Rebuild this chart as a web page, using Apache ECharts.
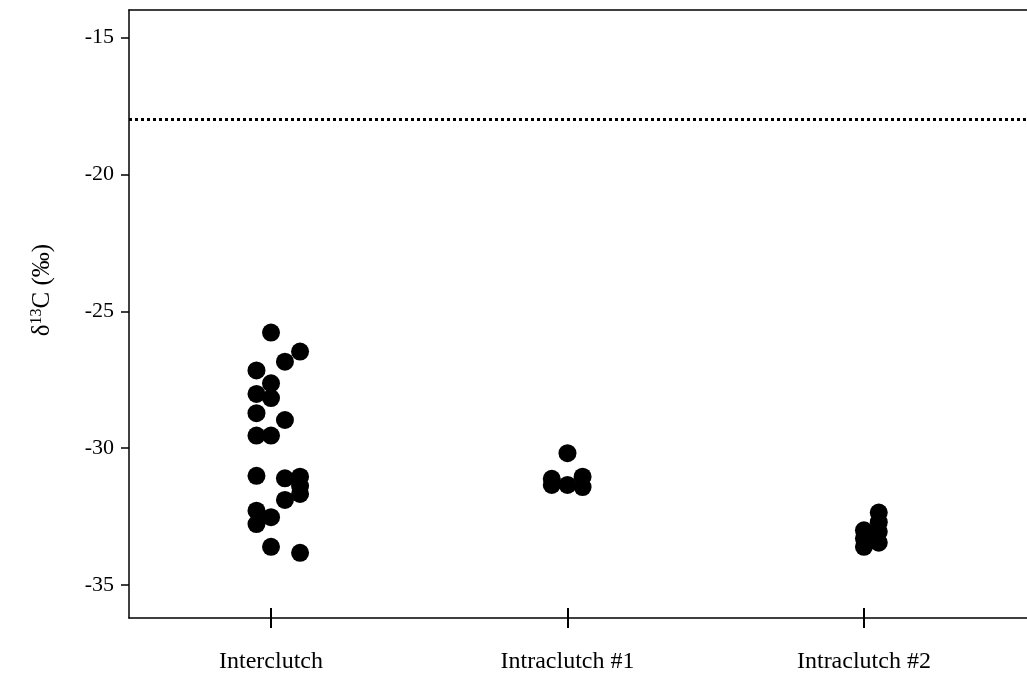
<!DOCTYPE html>
<html>
<head>
<meta charset="utf-8">
<script src="https://cdn.jsdelivr.net/npm/echarts@6/dist/echarts.min.js"></script>
<style>html,body{margin:0;padding:0;background:#fff}#c{width:1027px;height:678px}</style>
</head>
<body>
<div id="c"></div>
<script>
const categories = ['Interclutch', 'Intraclutch #1', 'Intraclutch #2'];
const categoryPositions = [1, 2, 3];
const yTicks = [-35, -30, -25, -20, -15];
const referenceLine = -18;
// [x position (category index + jitter), δ13C]
const interclutch = [
  [1.0, -25.78], [1.098, -26.47], [1.047, -26.84], [0.951, -27.16], [1.0, -27.63],
  [0.951, -28.02], [1.0, -28.17], [0.951, -28.72], [1.047, -28.97], [0.951, -29.54],
  [1.0, -29.54], [0.951, -31.01], [1.047, -31.10], [1.098, -31.04], [1.098, -31.38],
  [1.098, -31.67], [1.047, -31.89], [0.951, -32.28], [0.951, -32.77], [1.0, -32.52],
  [1.0, -33.60], [1.098, -33.82]
];
const intraclutch1 = [
  [2.0, -30.18], [1.947, -31.12], [1.947, -31.34], [2.0, -31.34], [2.051, -31.04], [2.051, -31.42]
];
const intraclutch2 = [
  [3.05, -32.35], [3.05, -32.70], [3.05, -33.05], [3.05, -33.45],
  [3.0, -33.0], [3.0, -33.3], [3.0, -33.6]
];

const font = 'Liberation Serif';
const chart = echarts.init(document.getElementById('c'), null, {renderer: 'canvas'});
const pointStyle = {color: '#000', opacity: 1};
chart.setOption({
  animation: false,
  backgroundColor: '#fff',
  textStyle: {fontFamily: font},
  grid: {left: 129, top: 10, right: 0, bottom: 60, containLabel: false},
  xAxis: [
    {
      type: 'value', min: 0.521, max: 3.55, position: 'bottom',
      splitLine: {show: false},
      axisLine: {show: true, onZero: false, lineStyle: {color: '#000', width: 1.5}},
      axisTick: {show: true, length: 10, customValues: categoryPositions, lineStyle: {color: '#000', width: 2}},
      axisLabel: {show: true, customValues: categoryPositions, margin: 32, fontFamily: font, fontSize: 24, color: '#000',
        formatter: v => categories[Math.round(v) - 1] || ''}
    },
    {
      type: 'value', min: 0.521, max: 3.55, position: 'bottom',
      splitLine: {show: false},
      axisLine: {show: false, onZero: false},
      axisTick: {show: true, inside: true, length: 10, customValues: categoryPositions, lineStyle: {color: '#000', width: 2}},
      axisLabel: {show: false}
    },
    {
      type: 'value', min: 0.521, max: 3.55, position: 'top',
      splitLine: {show: false},
      axisLine: {show: true, onZero: false, lineStyle: {color: '#000', width: 1.5}},
      axisTick: {show: false}, axisLabel: {show: false}
    }
  ],
  yAxis: {
    type: 'value', min: -36.2, max: -14,
    splitLine: {show: false},
    axisLine: {show: true, onZero: false, lineStyle: {color: '#000', width: 1.5}},
    axisTick: {show: true, length: 8, customValues: yTicks, lineStyle: {color: '#000', width: 1.5}},
    axisLabel: {customValues: yTicks, margin: 15, fontFamily: font, fontSize: 22, color: '#000'},
    name: '{d|δ}{s|13}{d|C (‰)}',
    nameLocation: 'middle',
    nameGap: 74,
    nameRotate: 90,
    nameTextStyle: {
      padding: [0, 0, 0, 48],
      rich: {
        d: {fontFamily: font, fontSize: 25, color: '#000'},
        s: {fontFamily: font, fontSize: 16, color: '#000', verticalAlign: 'top', padding: [0, 0, 10, 0]}
      }
    }
  },
  series: [
    {type: 'scatter', xAxisIndex: 0, data: interclutch, symbolSize: 18, itemStyle: pointStyle,
      markLine: {silent: true, symbol: 'none', label: {show: false},
        lineStyle: {color: '#000', type: [3, 3], width: 3},
        data: [{yAxis: referenceLine}]}},
    {type: 'scatter', xAxisIndex: 0, data: intraclutch1, symbolSize: 18, itemStyle: pointStyle},
    {type: 'scatter', xAxisIndex: 0, data: intraclutch2, symbolSize: 18, itemStyle: pointStyle}
  ]
});
</script>
</body>
</html>
